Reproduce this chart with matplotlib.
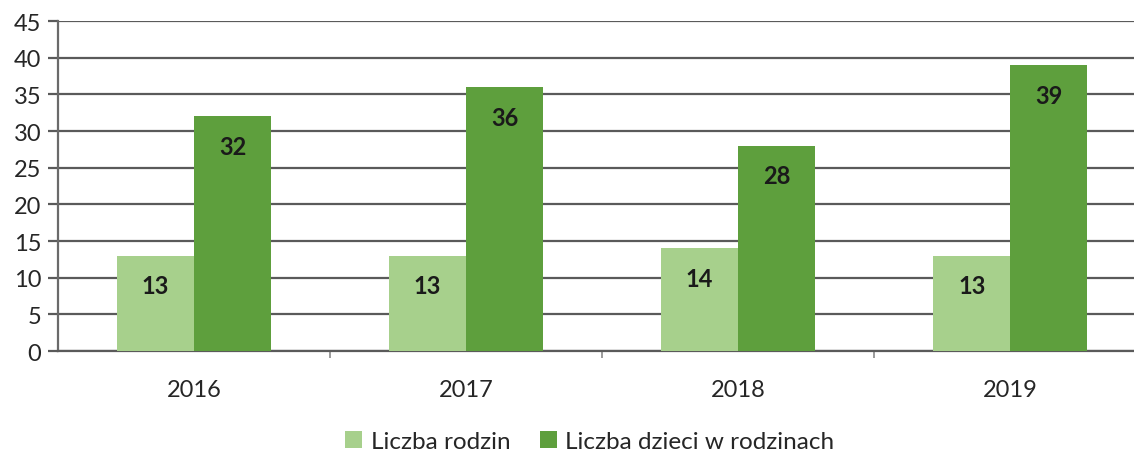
import numpy as np
import matplotlib.pyplot as plt

plt.rcParams['font.family'] = ['Lato', 'DejaVu Sans']

# data
years = ['2016', '2017', '2018', '2019']
rodziny = [13, 13, 14, 13]
dzieci = [32, 36, 28, 39]
series_names = ['Liczba rodzin', 'Liczba dzieci w rodzinach']
col_light = '#a7d08c'
col_dark = '#5e9f3d'

fig = plt.figure(figsize=(11.34, 4.52), dpi=100)
ax = fig.add_axes([0.0511, 0.2212, 0.9489, 0.7298])

x = np.arange(len(years))
w = 0.283
b1 = ax.bar(x - w / 2, rodziny, w, color=col_light, label=series_names[0], zorder=3)
b2 = ax.bar(x + w / 2, dzieci, w, color=col_dark, label=series_names[1], zorder=3)

# value labels inside the bars, near the top
for bars, vals in [(b1, rodziny), (b2, dzieci)]:
    for r, v in zip(bars, vals):
        ax.annotate(str(v), (r.get_x() + r.get_width() / 2, v),
                    xytext=(0, -30), textcoords='offset pixels',
                    ha='center', va='center', fontsize=17, fontweight='bold',
                    color='#1a1a1a', zorder=4)

ax.set_ylim(0, 45)
ax.set_yticks(range(0, 46, 5))
ax.set_xlim(-0.5, 3.455)
ax.set_xticks(x)
ax.set_xticklabels(years)
ax.set_xticks(x[:-1] + 0.5, minor=True)

ax.grid(axis='y', color='#5a5a5a', linewidth=1.6, zorder=0)
for s in ['top', 'right']:
    ax.spines[s].set_visible(False)
ax.spines['left'].set_color('#6a6a6a')
ax.spines['left'].set_linewidth(1.6)
ax.spines['bottom'].set_color('#5a5a5a')
ax.spines['bottom'].set_linewidth(1.6)

ax.tick_params(axis='y', labelsize=17, length=7, width=1.6, color='#5a5a5a',
               labelcolor='#262626', pad=5)
ax.tick_params(axis='x', which='major', length=0, labelsize=17,
               labelcolor='#262626', pad=20)
ax.tick_params(axis='x', which='minor', length=5, width=1.2, color='#8a8a8a')

fig.legend(loc='lower center', bbox_to_anchor=(0.52, -0.05), ncol=2,
           frameon=False, fontsize=17.5, handlelength=0.7, handleheight=0.7,
           handletextpad=0.35, columnspacing=1.2, labelcolor='#262626')

fig.savefig('out.png', dpi=100)
